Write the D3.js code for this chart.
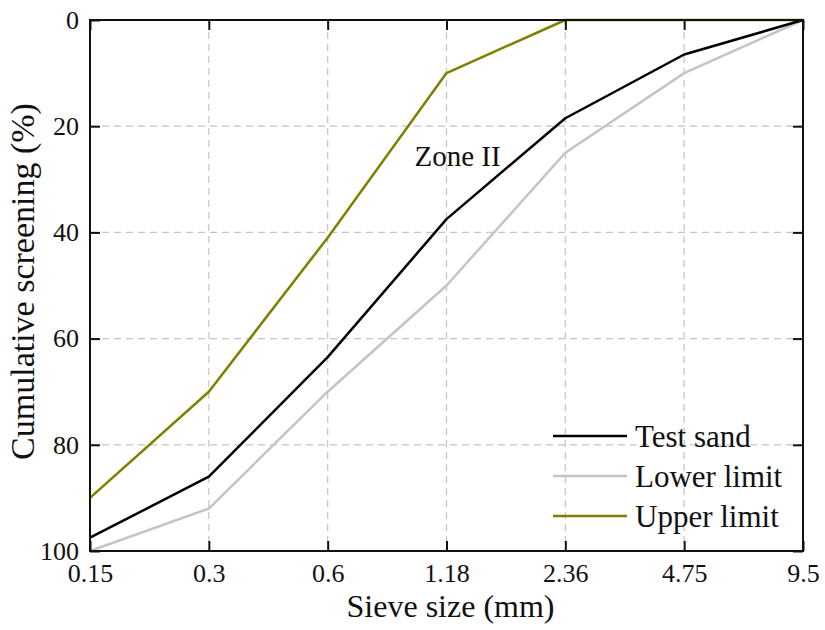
<!DOCTYPE html>
<html>
<head>
<meta charset="utf-8">
<script src="https://cdn.jsdelivr.net/npm/d3@7"></script>
<style>
  body { margin: 0; background: #fff; }
  svg text { font-family: "Liberation Serif", "Times New Roman", Times, "DejaVu Serif", serif !important; fill: #111; }
</style>
</head>
<body>
<div id="chart"></div>
<script>
// sieve sizes (mm) used as evenly spaced categories
const sieveSizes = ["0.15", "0.3", "0.6", "1.18", "2.36", "4.75", "9.5"];
const testSand = [97.5, 86, 63.5, 37.5, 18.5, 6.5, 0];
const lowerLimit = [100, 92, 70, 50, 25, 10, 0];
const upperLimit = [90, 70, 41, 10, 0, 0, 0];
const yTicks = [0, 20, 40, 60, 80, 100];

const width = 825, height = 630;
const margin = { left: 90, right: 22, top: 20, bottom: 79 };
const iw = width - margin.left - margin.right;
const ih = height - margin.top - margin.bottom;
const serif = '"Liberation Serif", "Times New Roman", Times, serif';

const svg = d3.select("#chart").append("svg")
  .attr("width", width)
  .attr("height", height)
  .attr("font-family", serif);

const g = svg.append("g")
  .attr("transform", `translate(${margin.left},${margin.top})`);

const x = d3.scalePoint().domain(sieveSizes).range([0, iw]);
const y = d3.scaleLinear().domain([0, 100]).range([0, ih]);

// grid lines
g.append("g").selectAll("line")
  .data(sieveSizes.slice(1, -1))
  .join("line")
  .attr("x1", d => x(d)).attr("x2", d => x(d))
  .attr("y1", 0).attr("y2", ih)
  .attr("stroke", "#c4c4c4").attr("stroke-width", 1.2)
  .attr("stroke-dasharray", "7,5");

g.append("g").selectAll("line")
  .data(yTicks.slice(1, -1))
  .join("line")
  .attr("x1", 0).attr("x2", iw)
  .attr("y1", d => y(d)).attr("y2", d => y(d))
  .attr("stroke", "#c4c4c4").attr("stroke-width", 1.2)
  .attr("stroke-dasharray", "7,5");

// series
const series = [
  { name: "Upper limit", values: upperLimit, color: "#808000" },
  { name: "Lower limit", values: lowerLimit, color: "#c4c4c4" },
  { name: "Test sand", values: testSand, color: "#000" }
];

const line = d3.line()
  .x((d, i) => x(sieveSizes[i]))
  .y(d => y(d));

series.forEach(s => {
  g.append("path")
    .datum(s.values)
    .attr("fill", "none")
    .attr("stroke", s.color)
    .attr("stroke-width", 2.5)
    .attr("stroke-linejoin", "round")
    .attr("d", line);
});

// axes (ticks inward on all sides)
const axisStyle = sel => {
  sel.attr("font-family", serif);
  sel.select(".domain").remove();
  sel.selectAll(".tick line").attr("stroke", "#111").attr("stroke-width", 2);
  sel.selectAll(".tick text").attr("font-size", "26px").attr("fill", "#111");
};

g.append("g")
  .attr("transform", `translate(0,${ih})`)
  .call(d3.axisBottom(x).tickSizeInner(-10).tickSizeOuter(0).tickPadding(13))
  .call(axisStyle);

g.append("g")
  .call(d3.axisTop(x).tickSizeInner(-10).tickSizeOuter(0).tickFormat(""))
  .call(axisStyle);

g.append("g")
  .call(d3.axisLeft(y).tickValues(yTicks).tickSizeInner(-10).tickSizeOuter(0).tickPadding(11))
  .call(axisStyle);

g.append("g")
  .attr("transform", `translate(${iw},0)`)
  .call(d3.axisRight(y).tickValues(yTicks).tickSizeInner(-10).tickSizeOuter(0).tickFormat(""))
  .call(axisStyle);

// frame
g.append("rect")
  .attr("width", iw).attr("height", ih)
  .attr("fill", "none").attr("stroke", "#111").attr("stroke-width", 2);

// axis titles
svg.append("text")
  .attr("x", margin.left + iw / 2 + 4)
  .attr("y", 617)
  .attr("text-anchor", "middle")
  .attr("font-size", "32px")
  .text("Sieve size (mm)");

svg.append("text")
  .attr("transform", `translate(34,${margin.top + ih / 2 - 4}) rotate(-90)`)
  .attr("text-anchor", "middle")
  .attr("font-size", "34px")
  .text("Cumulative screening (%)");

// annotation
g.append("text")
  .attr("x", x("1.18") + 11)
  .attr("y", 146)
  .attr("text-anchor", "middle")
  .attr("font-size", "29px")
  .text("Zone II");

// legend
const legendData = [series[2], series[1], series[0]];
const legend = g.append("g").attr("transform", `translate(${553 - margin.left},${436 - margin.top})`);
legend.selectAll("g")
  .data(legendData)
  .join("g")
  .attr("transform", (d, i) => `translate(0,${i * 40})`)
  .each(function(d) {
    const row = d3.select(this);
    row.append("line")
      .attr("x1", 0).attr("x2", 74)
      .attr("stroke", d.color).attr("stroke-width", 2.5);
    row.append("text")
      .attr("x", 82).attr("dy", "0.35em")
      .attr("font-size", "31px")
      .text(d.name);
  });
</script>
</body>
</html>
